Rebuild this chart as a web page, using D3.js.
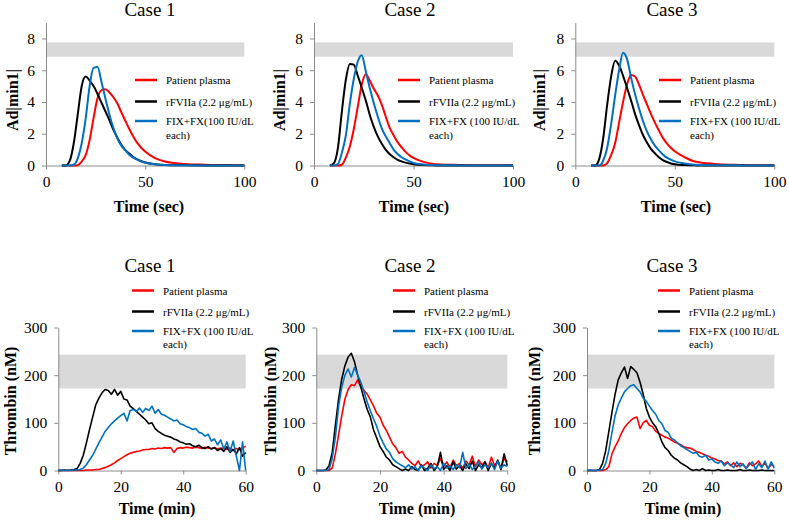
<!DOCTYPE html>
<html lang="en">
<head>
<meta charset="utf-8">
<title>Clot waveform and thrombin generation</title>
<script src="https://cdn.jsdelivr.net/npm/d3@7"></script>
<style>
  body { margin: 0; background: #fff; }
  svg { font-family: "Liberation Serif", "Times New Roman", serif; }
  .axis path, .axis line { stroke: #8c8c8c; }
  .axis text { font-size: 15.5px; fill: #000; font-family: "Liberation Serif", serif; }
</style>
</head>
<body>
<svg width="789" height="522"></svg>
<script>
// ---- data ----
var cases = ["Case 1", "Case 2", "Case 3"];
var seriesNames = ["Patient plasma", "rFVIIa (2.2 μg/mL)", "FIX+FX (100 IU/dL"];
var seriesColors = ["#ff0000", "#000000", "#0070c0"];

// clot waveform, time in sec
var cwTime = [8,10,12,14,16,18,20,22,24,26,28,30,32,34,36,38,40,42,44,46,48,50,55,60,70,80,90,100];
var cw1Red   = [0,0,0,0,0.02,0.25,0.65,1.6,3.0,4.25,4.75,4.8,4.6,4.3,3.9,3.35,2.82,2.3,1.82,1.42,1.12,0.88,0.46,0.25,0.1,0.05,0.03,0.02];
var cw1Black = [0,0,0.3,1.4,3.2,5.0,5.6,5.35,5.0,4.5,3.95,3.4,2.85,2.25,1.75,1.3,0.97,0.75,0.53,0.38,0.27,0.19,0.08,0.03,0.01,0,0,0];
var cw1Blue  = [0,0,0,0.05,0.45,1.4,2.95,5.0,6.15,6.2,5.25,4.2,3.2,2.35,1.7,1.25,0.95,0.68,0.5,0.37,0.26,0.19,0.08,0.03,0.01,0,0,0];
var cw2Red   = [0,0,0,0.05,0.5,1.2,2.3,3.7,5.1,5.75,5.35,4.85,4.42,3.85,3.1,2.38,1.9,1.47,1.15,0.86,0.64,0.48,0.23,0.1,0.04,0.02,0.01,0.01];
var cw2Black = [0,0.15,1.1,3.4,5.4,6.4,6.35,5.65,4.9,4.1,3.2,2.45,1.85,1.38,1.0,0.72,0.52,0.36,0.26,0.18,0.12,0.08,0.03,0.01,0,0,0,0];
var cw2Blue  = [0,0,0.1,0.8,1.9,3.88,5.45,6.55,6.95,5.95,4.9,3.95,3.1,2.35,1.85,1.42,1.0,0.72,0.52,0.38,0.26,0.16,0.07,0.03,0.01,0,0,0];
var cw3Red   = [0,0,0,0,0.15,0.65,1.4,2.7,4.0,5.1,5.7,5.6,5.1,4.45,3.85,3.25,2.7,2.2,1.74,1.4,1.12,0.9,0.52,0.25,0.1,0.04,0.02,0.01];
var cw3Black = [0,0,0.4,1.7,3.8,5.6,6.6,6.3,5.65,4.9,4.1,3.25,2.55,1.92,1.45,1.05,0.77,0.52,0.34,0.22,0.13,0.08,0.03,0.01,0,0,0,0];
var cw3Blue  = [0,0,0,0.3,1.1,2.6,4.4,6.0,7.1,6.7,5.55,4.5,3.6,2.8,2.15,1.65,1.25,0.95,0.7,0.5,0.37,0.26,0.12,0.05,0.02,0.01,0,0];

// thrombin generation, one value per minute 0..60
var tgTime = d3.range(0, 61);
var tg1Red   = [0,0,0,0,0,0,0,0,0,1,1,1,2,2,4,6,9,12,16,21,25,29,33,36,38,40,41,43,44,44,46,45,47,46,48,47,48,38,46,48,47,49,48,47,49,48,46,49,47,46,48,45,47,46,44,47,43,46,44,48,51];
var tg1Black = [0,0,1,0,1,2,4,15,32,58,86,112,138,152,163,170,168,160,170,158,166,150,148,135,130,124,118,112,106,98,100,88,82,78,74,72,70,66,64,60,58,55,56,52,50,53,48,46,50,45,48,42,46,40,50,38,44,35,48,30,38];
var tg1Blue  = [0,1,0,1,0,1,1,2,5,12,22,32,45,58,70,82,90,98,104,110,115,120,104,126,128,124,131,122,130,126,135,120,128,118,116,112,108,104,106,98,96,92,90,86,88,80,78,72,76,62,66,54,64,45,60,40,62,30,0,60,0];
var tg2Red   = [0,0,0,0,0,5,35,75,115,150,170,180,178,190,175,168,160,148,135,120,112,95,84,70,56,48,36,40,28,22,15,10,20,8,12,18,5,15,10,25,8,18,5,22,10,15,5,20,12,30,8,22,12,18,6,28,10,20,5,25,18];
var tg2Black = [0,0,0,1,10,38,95,150,192,220,238,246,228,200,175,150,128,112,85,68,50,40,28,22,12,8,4,0,3,0,8,2,0,12,0,5,15,0,8,38,2,10,0,18,3,10,0,14,4,20,0,12,6,18,0,15,5,22,2,35,10];
var tg2Blue  = [0,0,0,0,2,25,70,135,175,200,213,196,216,200,185,165,143,125,108,92,72,58,45,38,25,18,14,10,6,12,3,8,0,10,5,0,12,4,8,0,15,5,10,2,12,6,38,4,14,2,10,18,3,12,6,15,2,20,5,12,8];
var tg3Red   = [0,0,0,0,0,0,2,8,35,50,62,78,90,98,105,110,112,88,100,105,95,92,82,78,74,70,68,64,60,57,54,50,48,47,44,40,38,35,32,30,26,24,21,20,14,18,10,16,8,15,12,5,16,10,14,20,8,16,4,12,10];
var tg3Black = [0,0,0,0,2,15,42,82,122,160,190,205,217,193,218,212,205,185,160,130,112,100,92,78,60,48,42,32,26,22,16,12,8,3,0,2,0,4,0,1,0,0,2,0,0,1,0,0,0,2,0,0,1,0,0,0,1,0,0,0,0];
var tg3Blue  = [0,1,0,0,1,2,15,42,80,115,138,152,165,172,178,180,172,165,152,145,135,126,118,105,98,84,80,68,64,58,52,48,44,40,36,38,30,28,32,22,24,18,15,20,10,16,12,6,18,8,14,4,12,18,2,14,6,20,3,18,5];

var cwTicksX = [0, 50, 100], cwTicksY = [0, 2, 4, 6, 8];
var tgTicksX = [0, 20, 40, 60], tgTicksY = [0, 100, 200, 300];
var cwBand = [6.85, 7.75], tgBand = [172, 243];

var cwData = [[cw1Red, cw1Black, cw1Blue], [cw2Red, cw2Black, cw2Blue], [cw3Red, cw3Black, cw3Blue]];
var tgData = [[tg1Red, tg1Black, tg1Blue], [tg2Red, tg2Black, tg2Blue], [tg3Red, tg3Black, tg3Blue]];

// ---- layout ----
var svg = d3.select("svg");

var topPanels = [
  {x0: 46, x1: 244.3, title: 150, ylab: 13, xlab: 149, leg: 135, legText: "FIX+FX(100 IU/dL"},
  {x0: 314, x1: 513, title: 410, ylab: 280, xlab: 414, leg: 398},
  {x0: 575.3, x1: 774.3, title: 672, ylab: 540, xlab: 676, leg: 659}
];
var botPanels = [
  {x0: 58.3, x1: 245.7, title: 150, ylab: 11, xlab: 157, leg: 132},
  {x0: 316.3, x1: 507.3, title: 410, ylab: 271, xlab: 417, leg: 393},
  {x0: 587, x1: 774.3, title: 672, ylab: 535, xlab: 683, leg: 658}
];

function drawPanel(p, i, opt) {
  var x = d3.scaleLinear().domain(opt.xDomain).range([p.x0, p.x1]);
  var y = d3.scaleLinear().domain(opt.yDomain).range([opt.yBottom, opt.yTop]);
  var g = svg.append("g");

  g.append("rect")
      .attr("x", x(opt.xDomain[0]))
      .attr("y", y(opt.band[1]))
      .attr("width", x(opt.xDomain[1]) - x(opt.xDomain[0]))
      .attr("height", y(opt.band[0]) - y(opt.band[1]))
      .attr("fill", "#d9d9d9");

  g.append("g").attr("class", "axis")
      .attr("transform", "translate(" + p.x0 + ",0)")
      .call(d3.axisLeft(y).tickValues(opt.yTicks).tickSize(4).tickSizeOuter(0).tickPadding(7));

  g.append("g").attr("class", "axis")
      .attr("transform", "translate(0," + y(0) + ")")
      .call(d3.axisBottom(x).tickValues(opt.xTicks).tickSize(4).tickSizeOuter(0).tickPadding(6));

  var line = d3.line()
      .x(function(d) { return x(d[0]); })
      .y(function(d) { return y(d[1]); })
      .curve(opt.curve);

  opt.data[i].forEach(function(vals, k) {
    g.append("path")
        .datum(opt.time.map(function(t, j) { return [t, vals[j]]; }))
        .attr("fill", "none")
        .attr("stroke", seriesColors[k])
        .attr("stroke-width", opt.lw)
        .attr("stroke-linejoin", "round")
        .attr("d", line);
  });

  // title
  g.append("text")
      .attr("x", p.title).attr("y", opt.titleY)
      .attr("text-anchor", "middle")
      .style("font-size", "19px")
      .text(cases[i]);

  // axis titles
  g.append("text")
      .attr("transform", "translate(" + (p.ylab + 5) + "," + opt.ylabY + ") rotate(-90)")
      .attr("text-anchor", "middle")
      .style("font-size", "16px").style("font-weight", "bold")
      .text(opt.ylabel);

  g.append("text")
      .attr("x", p.xlab).attr("y", opt.xlabY)
      .attr("text-anchor", "middle")
      .style("font-size", "16px").style("font-weight", "bold")
      .text(opt.xlabel);

  // legend
  var rows = opt.legRows;
  seriesNames.forEach(function(name, k) {
    g.append("line")
        .attr("x1", p.leg).attr("x2", p.leg + 22)
        .attr("y1", rows[k]).attr("y2", rows[k])
        .attr("stroke", seriesColors[k]).attr("stroke-width", 2.5);
    g.append("text")
        .attr("x", p.leg + 31).attr("y", rows[k] + 4)
        .style("font-size", "11px")
        .text(k === 2 && p.legText ? p.legText : name);
  });
  g.append("text")
      .attr("x", p.leg + 31).attr("y", rows[3] + 4)
      .style("font-size", "11px")
      .text("each)");
}

topPanels.forEach(function(p, i) {
  drawPanel(p, i, {
    xDomain: [0, 100], yDomain: [0, 9], yBottom: 165.5, yTop: 22.6,
    xTicks: cwTicksX, yTicks: cwTicksY, band: cwBand,
    time: cwTime, data: cwData, curve: d3.curveMonotoneX, lw: 2,
    titleY: 16, ylabY: 100, xlabY: 212,
    ylabel: "Ad|min1|", xlabel: "Time (sec)",
    legRows: [80, 101.5, 121, 134.5]
  });
});

botPanels.forEach(function(p, i) {
  drawPanel(p, i, {
    xDomain: [0, 60], yDomain: [0, 300], yBottom: 470.5, yTop: 327.5,
    xTicks: tgTicksX, yTicks: tgTicksY, band: tgBand,
    time: tgTime, data: tgData, curve: d3.curveLinear, lw: 1.6,
    titleY: 272, ylabY: 401, xlabY: 514,
    ylabel: "Thrombin (nM)", xlabel: "Time (min)",
    legRows: [290.5, 311.5, 331, 343.5]
  });
});
</script>
</body>
</html>
